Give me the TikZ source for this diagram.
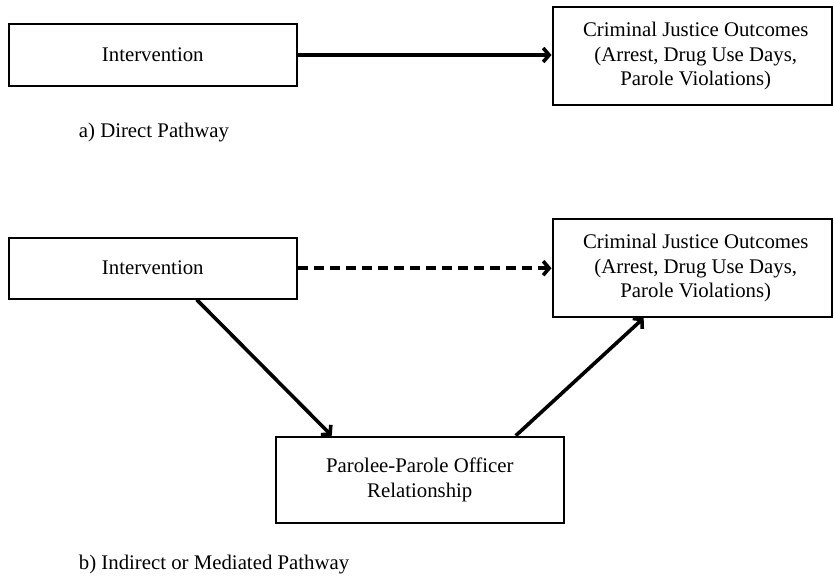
\documentclass[tikz,border=0pt]{standalone}
\usepackage{fontspec}
\setmainfont{Liberation Serif}
\usetikzlibrary{arrows.meta}
\begin{document}
\begin{tikzpicture}[x=1pt,y=-1pt,
  box/.style={draw, line width=2pt, inner sep=0pt, align=center,
    font=\fontsize{20.8}{24.5}\selectfont},
  arr/.style={line width=3.6pt, -{Straight Barb[length=6pt,width=14pt]}},
  lbl/.style={anchor=west, inner sep=0pt, font=\fontsize{20.8}{24.5}\selectfont}]
\useasboundingbox (0,0) rectangle (834,578);
% a) direct
\node[box, minimum width=288.5pt, minimum height=62pt] (int1) at (152.75,55) {Intervention};
\node[box, minimum width=279.5pt, minimum height=98pt] (cjo1) at (692.25,56)
  {\hspace*{7pt}Criminal Justice Outcomes\\\hspace*{7pt}(Arrest, Drug Use Days,\\\hspace*{7pt}Parole Violations)};
\draw[arr] (int1.east) -- (int1.east -| cjo1.west);
\node[lbl] (la) at (78.7,133) {a) Direct Pathway};
% b) indirect
\node[box, minimum width=288.5pt, minimum height=61pt] (int2) at (152.75,268.2) {Intervention};
\node[box, minimum width=279.5pt, minimum height=98pt] (cjo2) at (692.25,268)
  {\hspace*{7pt}Criminal Justice Outcomes\\\hspace*{7pt}(Arrest, Drug Use Days,\\\hspace*{7pt}Parole Violations)};
\node[box, minimum width=288.5pt, minimum height=86pt] (par) at (419.75,479.7)
  {Parolee-Parole Officer\\Relationship};
\draw[arr, dash pattern=on 10pt off 6pt] (int2.east) -- (int2.east -| cjo2.west);
\draw[arr] ([xshift=44pt]int2.south) -- ([xshift=-88pt]par.north);
\draw[arr] ([xshift=96pt]par.north) -- ([xshift=-48.6pt]cjo2.south);
\node[lbl] (lb) at (78.7,565) {b) Indirect or Mediated Pathway};
\end{tikzpicture}
\end{document}
